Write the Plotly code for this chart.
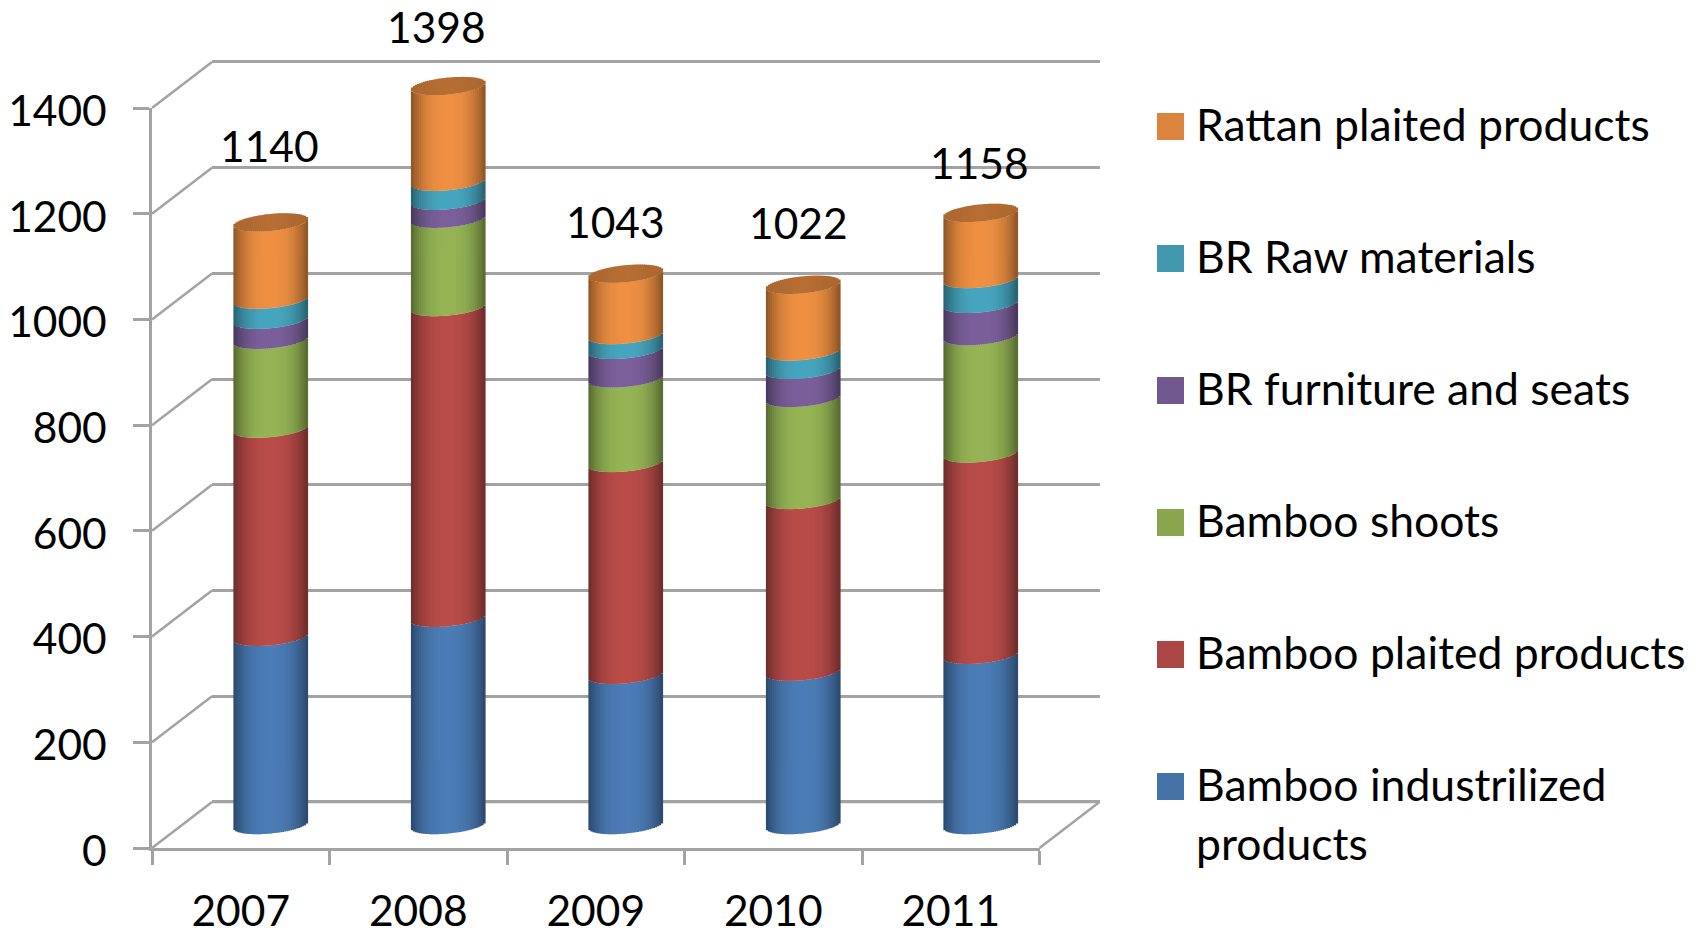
import math
import plotly.graph_objects as go

# ---- data ----
categories = ["2007", "2008", "2009", "2010", "2011"]
bamboo_industrialized = [356, 392, 284, 290, 322]
bamboo_plaited = [394, 588, 401, 325, 381]
bamboo_shoots = [168, 167, 160, 193, 222]
br_furniture = [38, 34, 54, 53, 61]
br_raw = [38, 36, 28, 35, 47]
rattan_plaited = [146, 181, 116, 126, 125]
totals = [1140, 1398, 1043, 1022, 1158]
y_ticks = [0, 200, 400, 600, 800, 1000, 1200, 1400]

series_names = ["Bamboo industrilized\nproducts", "Bamboo plaited products", "Bamboo shoots",
                "BR furniture and seats", "BR Raw materials", "Rattan plaited products"]
series_values = [bamboo_industrialized, bamboo_plaited, bamboo_shoots, br_furniture, br_raw, rattan_plaited]
series_colors = ["#4572A7", "#AA4643", "#89A54E", "#71588F", "#4198AF", "#DB843D"]

# ---- styling / layout constants (pixels on the page) ----
W, H = 1703, 934
X0, X1 = 152.0, 1039.5      # front axis
Y0, Y1 = 848.0, 108.0       # value 0 and value 1400 on the front axis
DX, DY = 60.0, 46.0         # chart depth
YMAX = 1400.0
PX_PER_UNIT = (Y0 - Y1) / YMAX
CAT_W = (X1 - X0) / len(categories)
RADIUS = 37.0
ELL_B, ELL_S = 8.5, 3.5
N_STRIPS = 37
GRID = "#A3A3A3"
GW = 2.5
FONT = "Lato"
TICK_SIZE = 42.5
LEG_SIZE = 44.5
LABEL_OFFSETS = [(-1, 77), (-12, 60), (-10, 52), (-5, 62), (-1, 50)]


def fx(px):
    return px / W


def fy(py):
    return 1 - py / H


def shade(hex_color, f):
    r, g, b = (int(hex_color[i:i + 2], 16) for i in (1, 3, 5))
    return "rgb(%d,%d,%d)" % (min(255, r * f), min(255, g * f), min(255, b * f))


def brightness(u):
    return 1.09 - 0.46 * abs(u) ** 2.6


us = [-1 + (2 * k + 1) / N_STRIPS for k in range(N_STRIPS)]
strip_w = 2 * RADIUS / N_STRIPS / CAT_W


def arc(u, front=True):
    """pixel offset (upwards) of the tilted ellipse rim at strip position u"""
    h = ELL_B * math.sqrt(max(0.0, 1 - u * u))
    return ((-h if front else h) + ELL_S * u) / PX_PER_UNIT


fig = go.Figure()

# back wall floor line (also creates the back wall axes)
fig.add_trace(go.Scatter(x=[0, 5], y=[0, 0], mode="lines", line=dict(width=GW, color=GRID),
                         xaxis="x", yaxis="y", showlegend=False, hoverinfo="skip"))
# helper trace to carry the category labels on the front axis
fig.add_trace(go.Scatter(x=categories, y=totals, mode="lines", line=dict(width=0, color="rgba(0,0,0,0)"),
                         xaxis="x2", yaxis="y2", showlegend=False, hoverinfo="skip"))

bottoms = [0] * len(categories)
for name, values, color in zip(series_names, series_values, series_colors):
    xs, bases, heights, cols = [], [], [], []
    for i, v in enumerate(values):
        for u in us:
            lo = bottoms[i] + arc(u)
            hi = bottoms[i] + v + arc(u)
            xs.append(i + 0.5 + u * RADIUS / CAT_W)
            bases.append(lo)
            heights.append(hi - lo)
            cols.append(shade(color, brightness(u)))
    fig.add_trace(go.Bar(x=xs, y=heights, base=bases, width=strip_w * 1.35, name=name.replace("\n", " "),
                         marker=dict(color=cols, opacity=1, line=dict(width=0)), xaxis="x3", yaxis="y3",
                         showlegend=False, hoverinfo="skip"))
    bottoms = [b + v for b, v in zip(bottoms, values)]

# top surface of each cylinder
xs, bases, heights, cols = [], [], [], []
for i, t in enumerate(bottoms):
    for u in us:
        lo, hi = t + arc(u), t + arc(u, front=False)
        xs.append(i + 0.5 + u * RADIUS / CAT_W)
        bases.append(lo)
        heights.append(hi - lo)
        cols.append(shade(series_colors[-1], 0.84 - 0.06 * abs(u)))
fig.add_trace(go.Bar(x=xs, y=heights, base=bases, width=strip_w * 1.35, name="top",
                     marker=dict(color=cols, opacity=1, line=dict(width=0)), xaxis="x3", yaxis="y3",
                     showlegend=False, hoverinfo="skip"))

shapes = []
# depth lines from front axis to back wall
for v in y_ticks:
    py = Y0 - v * PX_PER_UNIT
    shapes.append(dict(type="line", xref="paper", yref="paper", x0=fx(X0), y0=fy(py), x1=fx(X0 + DX), y1=fy(py - DY),
                       line=dict(color=GRID, width=GW), layer="below"))
shapes.append(dict(type="line", xref="paper", yref="paper", x0=fx(X1), y0=fy(Y0), x1=fx(X1 + DX), y1=fy(Y0 - DY),
                   line=dict(color=GRID, width=GW), layer="below"))

annotations = []
# total labels
for i, t in enumerate(totals):
    ox, oy = LABEL_OFFSETS[i]
    annotations.append(dict(x=i + 0.5, y=t, xref="x3", yref="y3", text=str(t), showarrow=False,
                            xshift=ox, yshift=oy, xanchor="center", yanchor="middle",
                            font=dict(family=FONT, size=TICK_SIZE, color="black")))

# legend, top entry first
row_y = [126.5 + 132 * k for k in range(6)]
for name, color, py in zip(series_names[::-1], series_colors[::-1], row_y):
    shapes.append(dict(type="rect", xref="paper", yref="paper", x0=fx(1157), x1=fx(1184), y0=fy(py - 13.5), y1=fy(py + 13.5),
                       fillcolor=color, line=dict(width=0)))
    for j, line in enumerate(name.split("\n")):
        annotations.append(dict(x=fx(1194), y=fy(py - 3.5 + j * 59), xref="paper", yref="paper", text=line, showarrow=False,
                                xanchor="left", yanchor="middle", font=dict(family=FONT, size=LEG_SIZE, color="black")))

tickfont = dict(family=FONT, size=TICK_SIZE, color="black")
PAD = 4.0  # extra value units so the top grid line is not dropped at the axis end
LOW3 = 40.0  # room below zero for the front rim of the cylinders
fig.update_layout(
    width=W, height=H, margin=dict(l=0, r=0, t=0, b=0, pad=0), paper_bgcolor="white", plot_bgcolor="rgba(0,0,0,0)",
    barmode="overlay", showlegend=False, shapes=shapes, annotations=annotations,
    # back wall
    xaxis=dict(domain=[fx(X0 + DX), fx(X1 + DX)], range=[0, 5], anchor="y", showgrid=False, zeroline=False,
               showticklabels=False, ticks="", showline=False, automargin=False),
    yaxis=dict(domain=[fy(Y0 - DY + PAD * PX_PER_UNIT), fy(Y1 - DY - PAD * PX_PER_UNIT)], range=[-PAD, YMAX + PAD],
               anchor="x", tickvals=y_ticks, showgrid=True, gridcolor=GRID, gridwidth=GW, zeroline=False,
               showticklabels=False, ticks="", showline=False, automargin=False),
    # front axes
    xaxis2=dict(domain=[fx(X0), fx(X1)], type="category", categoryorder="array", categoryarray=categories,
                range=[-0.5, 4.5], anchor="y2", tickson="boundaries", ticks="outside", ticklen=14, tickwidth=GW,
                tickcolor=GRID, showline=True, linecolor=GRID, linewidth=GW, showgrid=False, zeroline=False,
                tickfont=tickfont, ticklabelstandoff=24, automargin=False),
    yaxis2=dict(domain=[fy(Y0), fy(Y1)], range=[0, YMAX], anchor="x2", tickvals=y_ticks, ticks="outside", ticklen=16,
                tickwidth=GW, tickcolor=GRID, showline=True, linecolor=GRID, linewidth=GW, showgrid=False, zeroline=False,
                tickfont=tickfont, ticklabelstandoff=18, ticklabelshift=3, automargin=False),
    # cylinders stand half way into the chart depth
    xaxis3=dict(domain=[fx(X0 + DX / 2), fx(X1 + DX / 2)], range=[0, 5], anchor="y3", visible=False, automargin=False),
    yaxis3=dict(domain=[fy(Y0 - DY / 2 + LOW3 * PX_PER_UNIT), fy(Y0 - DY / 2 - 1500 * PX_PER_UNIT)], range=[-LOW3, 1500],
                anchor="x3", visible=False, automargin=False),
)

fig.write_html("out.html", config=dict(displayModeBar=False),
               post_script="document.body.style.margin='0';document.body.style.overflow='hidden';")
